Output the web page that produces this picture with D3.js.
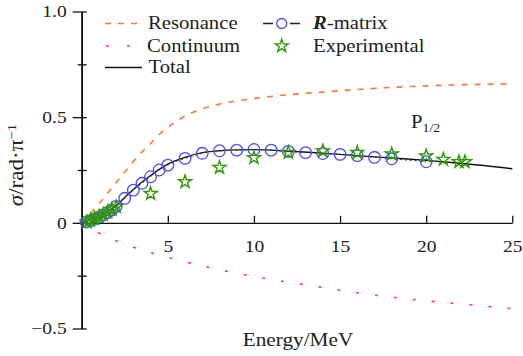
<!DOCTYPE html>
<html>
<head>
<meta charset="utf-8">
<script src="https://cdn.jsdelivr.net/npm/d3@7"></script>
<style>
  body { margin: 0; background: #fff; }
  text { font-family: "Liberation Serif", serif; fill: #222; }
</style>
</head>
<body>
<div id="chart"></div>
<script>
// energy grid for the model curves (MeV)
var curveE = [0, 0.5, 1, 1.5, 2, 2.5, 3, 3.5, 4, 4.5, 5, 6, 7, 8, 9, 10, 11, 12, 14, 16, 18, 20, 22, 25];
var resonance = [0, 0.045, 0.09, 0.14, 0.19, 0.24, 0.29, 0.335, 0.375, 0.418, 0.452, 0.505, 0.54, 0.562, 0.577, 0.588, 0.598, 0.606, 0.619, 0.631, 0.641, 0.648, 0.653, 0.658];
var continuum = [0, -0.028, -0.048, -0.068, -0.085, -0.1, -0.115, -0.129, -0.141, -0.152, -0.163, -0.184, -0.203, -0.222, -0.238, -0.254, -0.268, -0.281, -0.306, -0.331, -0.352, -0.369, -0.384, -0.406];
var total = [0, 0.018, 0.036, 0.055, 0.082, 0.12, 0.158, 0.193, 0.224, 0.253, 0.278, 0.31, 0.332, 0.341, 0.345, 0.346, 0.344, 0.339, 0.33, 0.318, 0.307, 0.296, 0.282, 0.256];

// R-matrix points
var rmE = [0.25, 0.5, 0.75, 1, 1.25, 1.5, 1.75, 2, 2.5, 3, 3.5, 4, 4.5, 5, 6, 7, 8, 9, 10, 11, 12, 13, 14, 15, 16, 17, 18, 20];
var rmSigma = [0.004, 0.01, 0.018, 0.027, 0.037, 0.048, 0.061, 0.078, 0.116, 0.155, 0.187, 0.218, 0.25, 0.273, 0.305, 0.329, 0.341, 0.344, 0.347, 0.344, 0.338, 0.332, 0.328, 0.324, 0.318, 0.31, 0.303, 0.289];

// experimental points
var expE = [0.3, 0.5, 0.75, 1, 1.25, 1.5, 1.75, 2, 4, 6, 8, 10, 12, 14, 16, 18, 20, 21, 21.9, 22.25];
var expSigma = [0.004, 0.012, 0.02, 0.03, 0.04, 0.052, 0.063, 0.076, 0.138, 0.194, 0.262, 0.308, 0.333, 0.34, 0.333, 0.325, 0.316, 0.3, 0.289, 0.289];

var xTicks = [5, 10, 15, 20, 25];
var yTicks = [-0.5, 0, 0.5, 1.0];
var yTickLabels = ["\u22120.5", "0", "0.5", "1.0"];
var yMinorTicks = [-0.25, 0.25, 0.75];

var colors = {res: "#ff7733", cont: "#ff22cc", total: "#111", rm: "#4d4dff", exp: "#2e9900"};

// the picture is stretched sideways, so text gets a horizontal scale
var SX = 1.15;

var W = 523, H = 356;
var svg = d3.select("#chart").append("svg").attr("width", W).attr("height", H);

var x = d3.scaleLinear().domain([0, 25]).range([81.7, 512.3]);
var y = d3.scaleLinear().domain([-0.5, 1]).range([328.5, 11.5]);

// y axis: majors cross, minors shorter, inner ticks on all
var gy = svg.append("g").attr("transform", "translate(" + x(0) + ",0)");
gy.append("g")
    .call(d3.axisLeft(y).tickValues(yTicks).tickSizeInner(9).tickSizeOuter(0).tickPadding(4)
        .tickFormat(function (d, i) { return yTickLabels[i]; }));
gy.append("g")
    .call(d3.axisLeft(y).tickValues(yMinorTicks).tickSizeInner(4).tickSizeOuter(0).tickFormat(""));
gy.append("g")
    .call(d3.axisRight(y).tickValues(yTicks.concat(yMinorTicks)).tickSizeInner(5).tickSizeOuter(0).tickFormat(""));
gy.selectAll(".domain").attr("stroke", "#111").attr("stroke-width", 1.3);
gy.selectAll(".tick line").attr("stroke", "#111").attr("stroke-width", 1.3);
gy.selectAll("text").style("font-family", "Liberation Serif").style("font-size", "17px")
    .attr("fill", "#222").attr("transform", "scale(" + SX + ",1)");

// x axis at sigma = 0, ticks pointing up
var gx = svg.append("g").attr("transform", "translate(0," + y(0) + ")")
    .call(d3.axisBottom(x).tickValues(xTicks).tickSizeInner(-7).tickSizeOuter(0).tickPadding(17));
gx.selectAll(".domain").attr("stroke", "#111").attr("stroke-width", 1.3);
gx.selectAll(".tick line").attr("stroke", "#111").attr("stroke-width", 1.3);
gx.selectAll("text").style("font-family", "Liberation Serif").style("font-size", "17px")
    .attr("fill", "#222").attr("transform", "scale(" + SX + ",1)");

function pts(xs, ys) {
    return xs.map(function (e, i) { return [e, ys[i]]; });
}

var line = d3.line()
    .x(function (d) { return x(d[0]); })
    .y(function (d) { return y(d[1]); })
    .curve(d3.curveMonotoneX);

svg.append("path").datum(pts(curveE, resonance))
    .attr("d", line).attr("fill", "none")
    .attr("stroke", colors.res).attr("stroke-width", 1.6).attr("stroke-dasharray", "6,7");

svg.append("path").datum(pts(curveE, continuum))
    .attr("d", line).attr("fill", "none")
    .attr("stroke", colors.cont).attr("stroke-width", 1.6).attr("stroke-dasharray", "3,16");

svg.append("path").datum(pts(curveE, total))
    .attr("d", line).attr("fill", "none")
    .attr("stroke", colors.total).attr("stroke-width", 1.3);

// R-matrix dashed connector
svg.append("path").datum(pts(rmE, rmSigma))
    .attr("d", line).attr("fill", "none")
    .attr("stroke", "#333").attr("stroke-width", 1).attr("stroke-dasharray", "2,3");

var star = d3.symbol().type(d3.symbolStar).size(52);

svg.selectAll(".rm").data(pts(rmE, rmSigma)).enter()
    .append("circle").attr("class", "rm")
    .attr("cx", function (d) { return x(d[0]); })
    .attr("cy", function (d) { return y(d[1]); })
    .attr("r", 5.8)
    .attr("fill", "none").attr("stroke", colors.rm).attr("stroke-width", 1.3);

svg.selectAll(".exp").data(pts(expE, expSigma)).enter()
    .append("path").attr("class", "exp")
    .attr("d", star)
    .attr("transform", function (d) { return "translate(" + x(d[0]) + "," + y(d[1]) + ")"; })
    .attr("fill", "none").attr("stroke", colors.exp).attr("stroke-width", 1.4);

// text helper: place at (tx,ty) and stretch sideways
function label(parent, tx, ty, size) {
    return parent.append("text")
        .attr("transform", "translate(" + tx + "," + ty + ") scale(" + SX + ",1)")
        .style("font-size", size + "px");
}

// legend
var lg = svg.append("g");
lg.append("line").attr("x1", 105).attr("x2", 142).attr("y1", 23.5).attr("y2", 23.5)
    .attr("stroke", colors.res).attr("stroke-width", 1.6).attr("stroke-dasharray", "6,7");
lg.append("line").attr("x1", 106).attr("x2", 142).attr("y1", 46).attr("y2", 46)
    .attr("stroke", colors.cont).attr("stroke-width", 1.6).attr("stroke-dasharray", "3,18");
lg.append("line").attr("x1", 105).attr("x2", 142).attr("y1", 67.5).attr("y2", 67.5)
    .attr("stroke", colors.total).attr("stroke-width", 1.3);
lg.append("line").attr("x1", 263).attr("x2", 300).attr("y1", 23.5).attr("y2", 23.5)
    .attr("stroke", "#222").attr("stroke-width", 1.3).attr("stroke-dasharray", "10,17");
lg.append("circle").attr("cx", 281.7).attr("cy", 23.5).attr("r", 5)
    .attr("fill", "#fff").attr("stroke", colors.rm).attr("stroke-width", 1.3);
lg.append("path").attr("d", star).attr("transform", "translate(281.7,46)")
    .attr("fill", "none").attr("stroke", colors.exp).attr("stroke-width", 1.4);

var legendText = [["Resonance", 148, 28.5], ["Continuum", 147, 51.5], ["Total", 148.5, 72.8], ["Experimental", 313, 51.5]];
legendText.forEach(function (t) {
    label(lg, t[1], t[2], 18).text(t[0]);
});
var rmText = label(lg, 313, 28.5, 18);
rmText.append("tspan").style("font-weight", "bold").style("font-style", "italic").text("R");
rmText.append("tspan").text("-matrix");

// P_{1/2}
var pt = label(svg, 411, 128, 18);
pt.append("tspan").text("P");
pt.append("tspan").attr("dy", 4).style("font-size", "12px").text("1/2");

// axis titles
label(svg, 298, 346, 18.5).attr("text-anchor", "middle").text("Energy/MeV");

var yl = svg.append("text").attr("transform", "translate(23,165) rotate(-90) scale(" + SX + ",1)")
    .attr("text-anchor", "middle").style("font-size", "20px");
yl.append("tspan").style("font-style", "italic").text("\u03c3");
yl.append("tspan").text("/rad\u00b7\u03c0");
yl.append("tspan").attr("dy", -7).style("font-size", "13px").text("\u22121");
</script>
</body>
</html>
